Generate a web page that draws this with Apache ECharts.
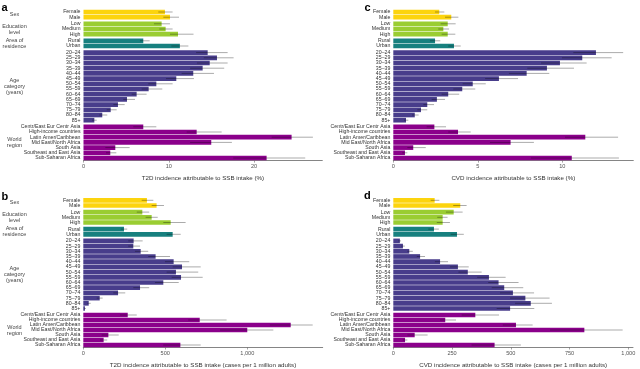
<!DOCTYPE html>
<html><head><meta charset="utf-8">
<script src="https://cdn.jsdelivr.net/npm/echarts@6/dist/echarts.min.js"></script>
<style>html,body{margin:0;padding:0;background:#fff}#c{width:640px;height:369px}</style>
</head><body><div id="c"></div>
<script>
// ---------- categories ----------
const sexCats = ['Female', 'Male'];
const eduCats = ['Low', 'Medium', 'High'];
const areaCats = ['Rural', 'Urban'];
const ageCats = ['20–24','25–29','30–34','35–39','40–44','45–49','50–54','55–59','60–64','65–69','70–74','75–79','80–84','85+'];
const regionCats = ['Centr/East Eur Centr Asia','High-income countries','Latin Amer/Caribbean','Mid East/North Africa','South Asia','Southeast and East Asia','Sub-Saharan Africa'];
const groupNames = ['Sex', 'Education\nlevel', 'Area of\nresidence', 'Age\ncategory\n(years)', 'World\nregion'];

// ---------- values (order: sex, education, area, age, region) ----------
const t2dPct   = [9.55,10.14, 9.16,9.63,11.08, 7.01,11.3, 14.56,15.65,14.8,13.97,12.87,10.88,8.54,7.64,6.23,5.1,4.04,3.19,2.2,1.27, 7.01,13.27,24.4,14.98,3.73,3.14,21.47];
const t2dPctLo = [8.77,9.36, 8.26,8.89,10.14, 6.62,10.3, 13.2,14.1,13.3,12.5,11.5,9.67,7.6,6.82,5.65,4.67,3.5,2.72,1.85,1.0, 5.84,12.1,22.06,12.5,2.56,2.64,17.56];
const t2dPctHi = [10.45,11.2, 10.14,10.45,12.9, 7.76,12.3, 16.9,17.6,16.9,16.5,15.3,12.95,10.45,9.24,7.4,6.04,4.83,3.89,2.79,1.55, 8.54,16.2,26.9,17.4,5.41,3.85,26.0];

const t2dRate   = [388,447, 360,417,533, 248,545, 307,305,350,441,551,602,565,596,488,346,212,100,33,10, 271,710,1265,1000,153,124,592];
const t2dRateLo = [356,417, 326,380,488, 228,508, 274,274,315,396,498,545,508,539,437,305,183,82,24,6, 224,640,1138,834,112,102,488];
const t2dRateHi = [427,492, 402,454,624, 268,594, 362,346,396,529,646,716,701,728,582,402,256,118,45,16, 326,874,1399,1159,216,146,716];

const cvdPct   = [2.72,3.43, 3.22,2.96,3.22, 2.47,3.59, 11.99,11.18,9.86,9.09,7.89,6.25,4.7,4.08,3.25,2.58,2.01,1.64,1.27,0.75, 2.43,3.83,11.36,6.94,1.18,0.69,10.56];
const cvdPctLo = [2.47,3.06, 2.8,2.66,2.86, 2.17,3.25, 10.65,9.98,8.74,7.93,6.84,5.43,4.1,3.55,2.86,2.27,1.78,1.42,1.11,0.63, 1.97,3.25,10.16,5.72,0.83,0.53,8.14];
const cvdPctHi = [3.02,3.85, 3.69,3.3,3.67, 2.78,3.99, 13.6,12.92,11.44,10.69,9.23,7.38,5.47,4.85,3.9,3.06,2.41,2.01,1.5,0.89, 3.12,4.58,13.3,8.32,1.92,0.83,13.35];

const cvdRate   = [176,285, 257,210,210, 173,271, 28,41,68,114,199,275,317,407,448,472,509,562,585,497, 349,221,522,813,91,50,431];
const cvdRateLo = [159,255, 224,187,185, 149,244, 21,34,60,100,177,241,277,357,404,419,454,497,518,440, 291,199,466,667,60,40,333];
const cvdRateHi = [196,312, 295,231,241, 194,300, 33,49,83,135,233,321,376,478,533,553,599,665,675,600, 450,267,593,976,146,60,543];

// ---------- ticks ----------
const ticksA = [0, 10, 20];
const ticksB = [0, 500, 1000];
const ticksC = [0, 5, 10];
const ticksD = [0, 250, 500, 750, 1000];

// ---------- styling / layout ----------
const groupCats = [sexCats, eduCats, areaCats, ageCats, regionCats];
const groupColors = ['#FCD40E', '#9ACD32', '#17807F', '#483D8B', '#8B008B'];
const FONT = 'Liberation Sans, Arial, sans-serif';
const PITCH = 5.2, GAP = 1.4;

const panels = [
  {letter:'a', x0:83.5, width:238.8, max:28, top:9.4, vals:t2dPct, lo:t2dPctLo, hi:t2dPctHi, ticks:ticksA, groupLabels:true,
   title:'T2D incidence attributable to SSB intake (%)'},
  {letter:'b', x0:83.3, width:239.4, max:1460, top:197.7, vals:t2dRate, lo:t2dRateLo, hi:t2dRateHi, ticks:ticksB, groupLabels:true,
   title:'T2D incidence attributable to SSB intake (cases per 1 million adults)'},
  {letter:'c', x0:393.3, width:240, max:14.2, top:9.4, vals:cvdPct, lo:cvdPctLo, hi:cvdPctHi, ticks:ticksC, groupLabels:false,
   title:'CVD incidence attributable to SSB intake (%)'},
  {letter:'d', x0:393.3, width:239.7, max:1020, top:197.7, vals:cvdRate, lo:cvdRateLo, hi:cvdRateHi, ticks:ticksD, groupLabels:false,
   title:'CVD incidence attributable to SSB intake (cases per 1 million adults)'}
];
const letterPos = {a:[1.5,13.6], b:[1.5,202], c:[364.5,13], d:[364,201.5]};

const grid = [], xAxis = [], yAxis = [], series = [], graphic = [];
let gi = 0;

function fmtNum(v){ return v >= 1000 ? v.toLocaleString('en-US') : String(v); }

panels.forEach(p => {
  let start = 0;
  let top = p.top;
  groupCats.forEach((cats, g) => {
    const n = cats.length;
    const h = n * PITCH;
    const last = g === groupCats.length - 1;
    grid.push({left: p.x0, top: top, width: p.width, height: h, containLabel: false});
    xAxis.push({
      type: 'value', gridIndex: gi, min: 0, max: p.max, show: last,
      splitLine: {show: false},
      axisLine: {show: last, lineStyle: {color: '#666', width: 0.8}},
      axisTick: {show: last, length: 2, lineStyle: {color: '#666', width: 0.6}, customValues: p.ticks},
      axisLabel: {show: last, customValues: p.ticks, formatter: v => fmtNum(v), fontSize: 5.6, color: '#555', margin: 3, fontFamily: FONT},
      name: last ? p.title : '', nameLocation: 'middle', nameGap: 14.5,
      nameTextStyle: {fontSize: 6.2, color: '#333', fontFamily: FONT}
    });
    yAxis.push({
      type: 'category', gridIndex: gi, data: cats, inverse: true,
      axisLine: {show: false}, axisTick: {show: false}, splitLine: {show: false},
      axisLabel: {fontSize: 5.2, color: '#333', margin: 3, fontFamily: FONT, interval: 0}
    });
    series.push({
      type: 'bar', xAxisIndex: gi, yAxisIndex: gi,
      data: p.vals.slice(start, start + n),
      barCategoryGap: '10%',
      itemStyle: {color: groupColors[g]},
      silent: true, animation: false
    });
    const lo = p.lo.slice(start, start + n), hi = p.hi.slice(start, start + n);
    series.push({
      type: 'custom', xAxisIndex: gi, yAxisIndex: gi,
      data: cats.map((c, i) => [lo[i], hi[i], i]),
      encode: {x: [0, 1], y: 2},
      renderItem: (params, api) => {
        const a = api.coord([api.value(0), api.value(2)]);
        const b = api.coord([api.value(1), api.value(2)]);
        return {type: 'line', shape: {x1: a[0], y1: a[1], x2: b[0], y2: b[1]},
                style: {stroke: 'rgba(0,0,0,0.33)', lineWidth: 1}};
      },
      silent: true, animation: false, z: 5
    });
    if (p.groupLabels) {
      const lines = groupNames[g].split('\n').length;
      graphic.push({
        type: 'text', left: 14.5 - 20, top: top + h / 2 - lines * 6 / 2,
        style: {text: groupNames[g], fontSize: 5.5, lineHeight: 6, fill: '#444', fontFamily: FONT,
                textAlign: 'center', width: 40, x: 20, y: 0}
      });
    }
    start += n;
    top += h + GAP;
    gi++;
  });
  const lp = letterPos[p.letter];
  graphic.push({type: 'text', x: lp[0], y: lp[1],
    style: {text: p.letter, fontSize: 11, fontWeight: 'bold', fill: '#000', fontFamily: FONT, textVerticalAlign: 'bottom'}});
});

const chart = echarts.init(document.getElementById('c'), null, {renderer: 'canvas'});
chart.setOption({animation: false, grid, xAxis, yAxis, series, graphic});
</script>
</body></html>
